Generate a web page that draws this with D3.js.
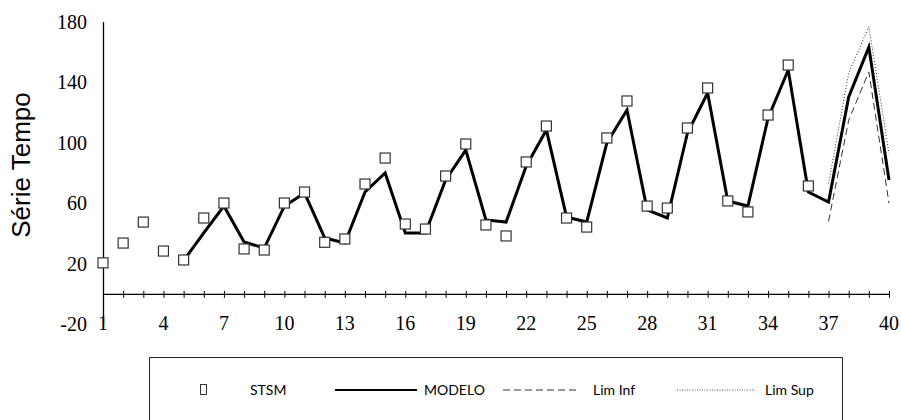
<!DOCTYPE html>
<html>
<head>
<meta charset="utf-8">
<script src="https://cdn.jsdelivr.net/npm/d3@7"></script>
<style>
    body { margin: 0; background: #fff; }
    .tick text { font-family: "Liberation Serif", "Times New Roman", serif; font-size: 20px; fill: #000; }
    .leg text { font-family: "Lato", "DejaVu Sans Condensed", sans-serif; font-size: 14px; fill: #000; }
</style>
</head>
<body>
<div id="grafico"></div>
<script>
    var periodos = d3.range(1, 41)
    var stsm = [20.5, 33.6, 47.5, 28.3, 22.4, 50.2, 60.1, 29.7, 29, 60.1, 67.4, 34.1, 36.3, 72.7, 89.9, 46.2, 42.9, 78, 99.2, 45.6, 38.3, 87.3, 111.1, 50.2, 44.2, 103.2, 127.7, 58.1, 56.8, 109.8, 136.3, 61.5, 54.2, 118.4, 151.5, 71.4]
    var modeloInicio = 5
    var modelo = [22, 40.3, 58.1, 34.3, 30.3, 58, 66.8, 37, 33.6, 67.4, 80, 40.3, 40.3, 75.4, 95.2, 48.9, 47.5, 84.6, 108.5, 50.9, 47.5, 99.9, 121.7, 55.5, 50.2, 106.5, 133, 61.5, 58.1, 116.4, 148.2, 67.4, 60.8, 130.3, 163.4, 75.4]
    var limInicio = 37
    var limInf = [48, 115, 147, 60]
    var limSup = [73, 146, 177, 93]
    var ticksY = [-20, 20, 60, 100, 140, 180]
    var ticksX = [1, 4, 7, 10, 13, 16, 19, 22, 25, 28, 31, 34, 37, 40]
    var leyenda = ["STSM", "MODELO", "Lim Inf", "Lim Sup"]

    var width = 901,
        height = 420;

    var svg = d3.select("#grafico").append("svg")
        .attr("width", width)
        .attr("height", height)

    var x = d3.scaleLinear()
        .domain([1, 40])
        .range([103, 889]);

    var y = d3.scaleLinear()
        .domain([-20, 180])
        .range([324, 22]);

    // eje y
    var ejeY = svg.append("g")
        .attr("transform", "translate(" + x(1) + ",0)")
        .call(d3.axisLeft(y).tickValues(ticksY).tickFormat(String).tickSize(4).tickSizeOuter(0).tickPadding(12))
    ejeY.select(".domain").attr("stroke", "#000").attr("stroke-width", 1.3)
    ejeY.selectAll(".tick line").attr("stroke", "#000").attr("x2", 1)

    // eje x cruzando en 0
    var ejeX = svg.append("g")
        .attr("transform", "translate(0," + y(0) + ")")
        .call(d3.axisBottom(x).tickValues(periodos).tickFormat("").tickSize(7).tickSizeOuter(0))
    ejeX.select(".domain").attr("stroke", "#000").attr("stroke-width", 1.3)
    ejeX.selectAll(".tick line").attr("stroke", "#000").attr("y1", -3).attr("y2", 4)

    svg.append("g")
        .attr("class", "tick")
        .selectAll("text")
        .data(ticksX)
        .enter().append("text")
        .attr("x", function (d) {
            return x(d);
        })
        .attr("y", y(-20))
        .attr("dy", ".32em")
        .style("text-anchor", "middle")
        .text(function (d) {
            return d;
        });

    svg.append("text")
        .attr("transform", "translate(30,165) rotate(-90)")
        .style("text-anchor", "middle")
        .style("font-family", "Liberation Sans, Arial, sans-serif")
        .style("font-size", "26px")
        .text("Série Tempo");

    var linea = d3.line()
        .x(function (d) {
            return x(d.t);
        })
        .y(function (d) {
            return y(d.v);
        })

    function serie(valores, inicio) {
        return valores.map(function (v, i) {
            return { t: inicio + i, v: v };
        });
    }

    svg.append("path")
        .datum(serie(limInf, limInicio))
        .attr("fill", "none")
        .attr("stroke", "#333")
        .attr("stroke-width", 1)
        .attr("stroke-dasharray", "7,4")
        .attr("d", linea)

    svg.append("path")
        .datum(serie(limSup, limInicio))
        .attr("fill", "none")
        .attr("stroke", "#333")
        .attr("stroke-width", 1)
        .attr("stroke-dasharray", "1,2")
        .attr("d", linea)

    svg.append("path")
        .datum(serie(modelo, modeloInicio))
        .attr("fill", "none")
        .attr("stroke", "#000")
        .attr("stroke-width", 3)
        .attr("stroke-linejoin", "miter")
        .attr("d", linea)

    svg.append("g")
        .selectAll("rect")
        .data(serie(stsm, 1))
        .enter().append("rect")
        .attr("x", function (d) {
            return x(d.t) - 5;
        })
        .attr("y", function (d) {
            return y(d.v) - 5;
        })
        .attr("width", 10)
        .attr("height", 10)
        .attr("fill", "#fff")
        .attr("stroke", "#333")
        .attr("stroke-width", 1.2)

    // leyenda
    var leg = svg.append("g").attr("class", "leg")
    leg.append("rect")
        .attr("x", 149.5)
        .attr("y", 357.5)
        .attr("width", 693)
        .attr("height", 90)
        .attr("fill", "none")
        .attr("stroke", "#222")
        .attr("stroke-width", 1)

    var ly = 390
    leg.append("rect")
        .attr("x", 200.5)
        .attr("y", ly - 5.5)
        .attr("width", 6)
        .attr("height", 10)
        .attr("fill", "#fff")
        .attr("stroke", "#333")
    leg.append("line").attr("x1", 335).attr("x2", 417).attr("y1", ly).attr("y2", ly)
        .attr("stroke", "#000").attr("stroke-width", 2)
    leg.append("line").attr("x1", 503).attr("x2", 580).attr("y1", ly).attr("y2", ly)
        .attr("stroke", "#333").attr("stroke-width", 1).attr("stroke-dasharray", "7,4")
    leg.append("line").attr("x1", 677).attr("x2", 755).attr("y1", ly).attr("y2", ly)
        .attr("stroke", "#555").attr("stroke-width", 1).attr("stroke-dasharray", "1,1.5")

    var posTexto = [250, 424, 593, 765]
    leg.selectAll("text")
        .data(leyenda)
        .enter().append("text")
        .attr("x", function (d, i) {
            return posTexto[i];
        })
        .attr("y", ly)
        .attr("dy", ".35em")
        .text(function (d) {
            return d;
        });
</script>
</body>
</html>
